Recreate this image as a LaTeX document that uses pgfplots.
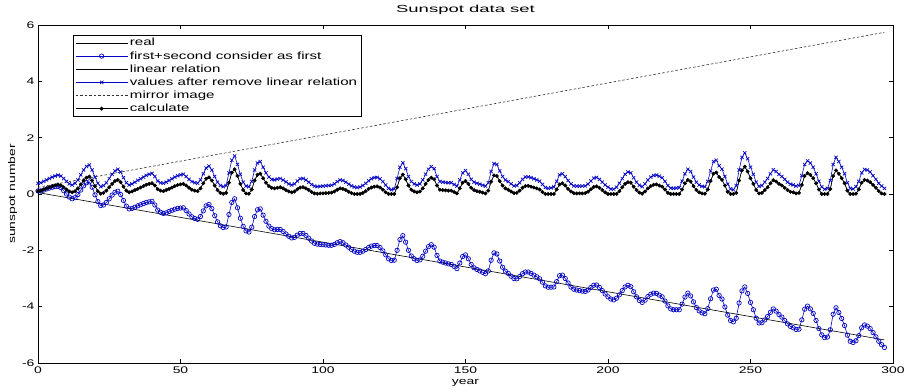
\documentclass[border=0pt]{standalone}
\usepackage{pgfplots}
\pgfplotsset{compat=1.18}
\usepackage{pgfplotstable}
\usepackage{graphicx}
\usepackage{fontspec}
\setmainfont{Liberation Sans}[FakeStretch=1.45]
\definecolor{mblue}{RGB}{5,5,195}

\pgfplotstableread{
x b r c
0 0.38 0.10 0.11
1 0.40 0.12 0.11
2 0.45 0.16 0.14
3 0.50 0.20 0.18
4 0.55 0.24 0.21
5 0.60 0.28 0.24
6 0.64 0.31 0.26
7 0.67 0.34 0.27
8 0.64 0.31 0.23
9 0.55 0.24 0.12
10 0.45 0.16 0.00
11 0.36 0.09 -0.11
12 0.32 0.06 -0.17
13 0.38 0.10 -0.13
14 0.50 0.20 -0.02
15 0.68 0.34 0.14
16 0.85 0.48 0.29
17 0.98 0.58 0.40
18 1.03 0.62 0.43
19 0.85 0.48 0.24
20 0.60 0.28 -0.03
21 0.38 0.10 -0.27
22 0.26 0.01 -0.41
23 0.30 0.04 -0.39
24 0.40 0.12 -0.30
25 0.55 0.24 -0.17
26 0.70 0.36 -0.04
27 0.82 0.46 0.06
28 0.88 0.50 0.10
29 0.78 0.42 -0.02
30 0.58 0.26 -0.23
31 0.40 0.12 -0.43
32 0.32 0.06 -0.53
33 0.36 0.09 -0.51
34 0.42 0.14 -0.47
35 0.48 0.18 -0.42
36 0.54 0.23 -0.38
37 0.60 0.28 -0.34
38 0.66 0.33 -0.30
39 0.70 0.36 -0.28
40 0.73 0.38 -0.26
41 0.62 0.30 -0.39
42 0.46 0.17 -0.57
43 0.40 0.12 -0.65
44 0.38 0.10 -0.69
45 0.42 0.14 -0.67
46 0.48 0.18 -0.62
47 0.54 0.23 -0.58
48 0.60 0.28 -0.54
49 0.65 0.32 -0.51
50 0.68 0.34 -0.50
51 0.70 0.36 -0.49
52 0.62 0.30 -0.59
53 0.52 0.22 -0.71
54 0.44 0.15 -0.81
55 0.40 0.12 -0.87
56 0.38 0.10 -0.90
57 0.50 0.20 -0.80
58 0.72 0.38 -0.60
59 0.92 0.54 -0.42
60 0.99 0.59 -0.37
61 0.85 0.48 -0.52
62 0.62 0.30 -0.77
63 0.42 0.14 -0.99
64 0.30 0.04 -1.13
65 0.26 0.01 -1.19
66 0.30 0.04 -1.17
67 0.75 0.40 -0.73
68 1.20 0.76 -0.30
69 1.35 0.88 -0.17
70 1.05 0.64 -0.49
71 0.70 0.36 -0.86
72 0.42 0.14 -1.15
73 0.28 0.02 -1.31
74 0.26 0.01 -1.35
75 0.45 0.16 -1.18
76 0.85 0.48 -0.80
77 1.10 0.68 -0.56
78 1.15 0.72 -0.53
79 0.95 0.56 -0.75
80 0.75 0.40 -0.97
81 0.60 0.28 -1.14
82 0.52 0.22 -1.23
83 0.50 0.20 -1.27
84 0.53 0.22 -1.26
85 0.55 0.24 -1.26
86 0.50 0.20 -1.33
87 0.43 0.14 -1.42
88 0.36 0.09 -1.50
89 0.32 0.06 -1.56
90 0.36 0.09 -1.54
91 0.46 0.17 -1.46
92 0.54 0.23 -1.40
93 0.55 0.24 -1.40
94 0.50 0.20 -1.47
95 0.42 0.14 -1.57
96 0.34 0.07 -1.67
97 0.28 0.02 -1.75
98 0.26 0.01 -1.78
99 0.27 0.02 -1.79
100 0.28 0.02 -1.80
101 0.29 0.03 -1.81
102 0.30 0.04 -1.82
103 0.31 0.05 -1.82
104 0.36 0.09 -1.79
105 0.44 0.15 -1.73
106 0.50 0.20 -1.69
107 0.48 0.18 -1.73
108 0.42 0.14 -1.81
109 0.35 0.08 -1.89
110 0.29 0.03 -1.97
111 0.25 0.00 -2.03
112 0.23 0.00 -2.07
113 0.25 0.00 -2.07
114 0.30 0.04 -2.03
115 0.38 0.10 -1.97
116 0.47 0.18 -1.90
117 0.54 0.23 -1.85
118 0.58 0.26 -1.83
119 0.59 0.27 -1.83
120 0.54 0.23 -1.90
121 0.44 0.15 -2.02
122 0.32 0.06 -2.16
123 0.20 0.00 -2.30
124 0.15 0.00 -2.36
125 0.18 0.00 -2.35
126 0.55 0.24 -2.00
127 0.95 0.56 -1.62
128 1.11 0.69 -1.48
129 0.90 0.52 -1.71
130 0.62 0.30 -2.00
131 0.44 0.15 -2.20
132 0.36 0.09 -2.30
133 0.32 0.06 -2.36
134 0.36 0.09 -2.34
135 0.50 0.20 -2.21
136 0.70 0.36 -2.03
137 0.88 0.50 -1.87
138 0.97 0.58 -1.80
139 0.90 0.52 -1.89
140 0.62 0.30 -2.18
141 0.44 0.15 -2.38
142 0.42 0.14 -2.42
143 0.41 0.13 -2.45
144 0.40 0.12 -2.48
145 0.40 0.12 -2.50
146 0.34 0.07 -2.57
147 0.28 0.02 -2.65
148 0.50 0.20 -2.45
149 0.75 0.40 -2.22
150 0.83 0.46 -2.16
151 0.70 0.36 -2.30
152 0.52 0.22 -2.50
153 0.42 0.14 -2.62
154 0.38 0.10 -2.68
155 0.35 0.08 -2.73
156 0.31 0.05 -2.78
157 0.28 0.02 -2.83
158 0.40 0.12 -2.73
159 0.80 0.44 -2.35
160 1.08 0.66 -2.09
161 1.05 0.64 -2.13
162 0.82 0.46 -2.38
163 0.62 0.30 -2.60
164 0.50 0.20 -2.74
165 0.44 0.15 -2.82
166 0.36 0.09 -2.92
167 0.29 0.03 -3.00
168 0.30 0.04 -3.01
169 0.40 0.12 -2.93
170 0.52 0.22 -2.83
171 0.60 0.28 -2.77
172 0.61 0.29 -2.77
173 0.58 0.26 -2.82
174 0.54 0.23 -2.88
175 0.50 0.20 -2.94
176 0.45 0.16 -3.01
177 0.34 0.07 -3.13
178 0.23 0.00 -3.26
179 0.20 0.00 -3.31
180 0.22 0.00 -3.31
181 0.25 0.00 -3.30
182 0.45 0.16 -3.11
183 0.68 0.34 -2.90
184 0.72 0.38 -2.88
185 0.62 0.30 -3.00
186 0.48 0.18 -3.16
187 0.36 0.09 -3.30
188 0.29 0.03 -3.38
189 0.28 0.02 -3.41
190 0.28 0.02 -3.43
191 0.28 0.02 -3.45
192 0.29 0.03 -3.46
193 0.35 0.08 -3.41
194 0.46 0.17 -3.32
195 0.56 0.25 -3.24
196 0.59 0.27 -3.23
197 0.52 0.22 -3.32
198 0.42 0.14 -3.43
199 0.32 0.06 -3.55
200 0.24 0.00 -3.65
201 0.18 0.00 -3.73
202 0.17 0.00 -3.76
203 0.24 0.00 -3.70
204 0.38 0.10 -3.58
205 0.55 0.24 -3.43
206 0.70 0.36 -3.30
207 0.78 0.42 -3.24
208 0.75 0.40 -3.29
209 0.58 0.26 -3.47
210 0.42 0.14 -3.65
211 0.31 0.05 -3.78
212 0.26 0.01 -3.85
213 0.36 0.09 -3.77
214 0.50 0.20 -3.64
215 0.60 0.28 -3.56
216 0.66 0.33 -3.52
217 0.67 0.34 -3.53
218 0.63 0.30 -3.59
219 0.58 0.26 -3.65
220 0.45 0.16 -3.80
221 0.30 0.04 -3.97
222 0.21 0.00 -4.08
223 0.20 0.00 -4.11
224 0.21 0.00 -4.11
225 0.23 0.00 -4.11
226 0.45 0.16 -3.91
227 0.72 0.38 -3.66
228 0.88 0.50 -3.52
229 0.80 0.44 -3.62
230 0.60 0.28 -3.83
231 0.42 0.14 -4.03
232 0.32 0.06 -4.15
233 0.27 0.02 -4.22
234 0.26 0.01 -4.25
235 0.45 0.16 -4.07
236 0.82 0.46 -3.72
237 1.15 0.72 -3.41
238 1.20 0.76 -3.38
239 1.00 0.60 -3.60
240 0.88 0.50 -3.73
241 0.62 0.30 -4.01
242 0.35 0.08 -4.30
243 0.18 0.00 -4.49
244 0.15 0.00 -4.54
245 0.30 0.04 -4.41
246 0.85 0.48 -3.87
247 1.30 0.84 -3.44
248 1.46 0.97 -3.30
249 1.25 0.80 -3.53
250 0.95 0.56 -3.85
251 0.70 0.36 -4.11
252 0.42 0.14 -4.41
253 0.27 0.02 -4.58
254 0.30 0.04 -4.57
255 0.42 0.14 -4.47
256 0.55 0.24 -4.35
257 0.72 0.38 -4.20
258 0.86 0.49 -4.08
259 0.80 0.44 -4.16
260 0.70 0.36 -4.28
261 0.62 0.30 -4.37
262 0.52 0.22 -4.49
263 0.42 0.14 -4.61
264 0.35 0.08 -4.70
265 0.32 0.06 -4.75
266 0.28 0.02 -4.81
267 0.30 0.04 -4.80
268 0.65 0.32 -4.47
269 1.05 0.64 -4.09
270 1.18 0.74 -3.98
271 1.10 0.68 -4.08
272 0.95 0.56 -4.24
273 0.72 0.38 -4.49
274 0.45 0.16 -4.78
275 0.25 0.00 -5.00
276 0.17 0.00 -5.10
277 0.20 0.00 -5.08
278 0.48 0.18 -4.82
279 1.05 0.64 -4.27
280 1.30 0.84 -4.04
281 1.15 0.72 -4.21
282 0.95 0.56 -4.42
283 0.72 0.38 -4.67
284 0.40 0.12 -5.01
285 0.20 0.00 -5.23
286 0.18 0.00 -5.27
287 0.26 0.01 -5.21
288 0.45 0.16 -5.03
289 0.75 0.40 -4.75
290 0.87 0.50 -4.65
291 0.85 0.48 -4.69
292 0.78 0.42 -4.78
293 0.65 0.32 -4.92
294 0.52 0.22 -5.07
295 0.38 0.10 -5.23
296 0.28 0.02 -5.35
297 0.20 0.00 -5.45
}\data

\begin{document}
\begin{tikzpicture}
\begin{axis}[
  width=855pt, height=338pt, scale only axis,
  xmin=0, xmax=300, ymin=-6, ymax=6,
  xtick={0,50,...,300}, ytick={-6,-4,...,6},
  tick align=inside, major tick length=4pt,
  tick style={black, line width=0.5pt},
  axis line style={line width=0.6pt},
  /pgf/number format/assume math mode=true,
  ticklabel style={font=\fontsize{9.6}{10}\selectfont},
  title={\scalebox{1.25}[1]{Sunspot data set}},
  title style={font=\fontsize{10.2}{12}\selectfont, yshift=1pt},
  xlabel={year}, ylabel={sunspot number},
  label style={font=\fontsize{9.6}{10}\selectfont},
  xlabel style={yshift=1pt},
  ylabel style={yshift=-2pt},
  legend style={at={(0.041,0.970)}, anchor=north west,
    font=\fontsize{10.4}{12}\selectfont, draw=black, line width=0.6pt,
    inner xsep=2pt, inner ysep=1pt, row sep=0.1pt},
  legend cell align=left,
  legend image code/.code={\draw[mark repeat=2, mark phase=2, #1] plot coordinates {(0pt,0pt) (26pt,0pt) (52pt,0pt)};},
]
\addplot[black, line width=0.5pt] table[x=x, y=r] {\data};
\addlegendentry{real}
\addplot[mblue, line width=0.6pt, mark=o, mark size=2.2pt, mark options={line width=0.7pt}] table[x=x, y=c] {\data};
\addlegendentry{first+second consider as first}
\addplot[black, line width=0.6pt] coordinates {(0,0.05) (297,-5.18)};
\addlegendentry{linear relation}
\addplot[mblue, line width=0.6pt, mark=x, mark size=2.3pt, mark options={line width=0.7pt}] table[x=x, y=b] {\data};
\addlegendentry{values after remove linear relation}
\addplot[black!80, line width=0.6pt, dash pattern=on 2.5pt off 2pt] coordinates {(0,0.24) (297,5.74)};
\addlegendentry{mirror image}
\addplot[black, line width=0.5pt, mark=*, mark size=1.7pt] table[x=x, y=r] {\data};
\addlegendentry{calculate}
\end{axis}
\pgfresetboundingbox
\path[use as bounding box] ([xshift=-38pt,yshift=-29pt]current axis.south west) rectangle ([xshift=12pt,yshift=25pt]current axis.north east);
\end{tikzpicture}
\end{document}
